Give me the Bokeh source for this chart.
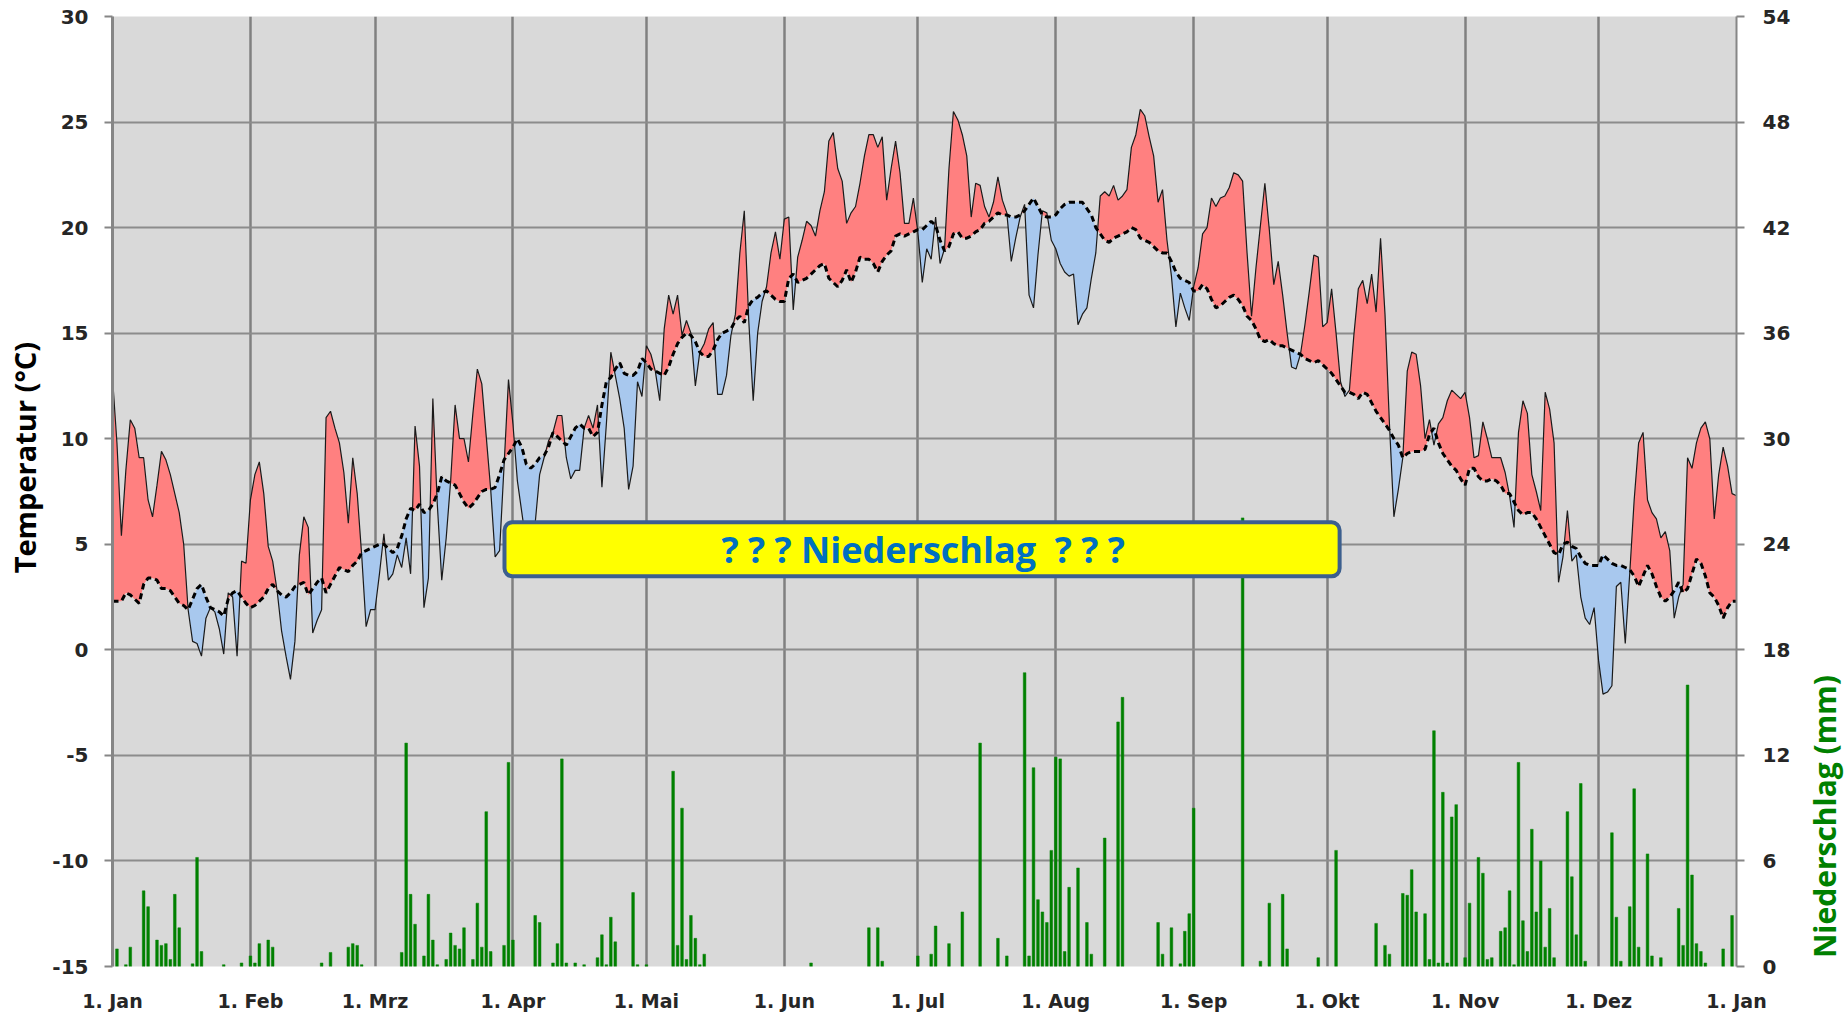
import math
import numpy as np
from bokeh.plotting import figure
from bokeh.layouts import row
from bokeh.models import Range1d, LinearAxis, FixedTicker, BoxAnnotation, Label
from bokeh.core.properties import value
from bokeh.embed import file_html
from bokeh.resources import INLINE

# ---------------- data ----------------
month_start = [0, 31, 59, 90, 120, 151, 181, 212, 243, 273, 304, 334, 365]
month_label = ["1. Jan", "1. Feb", "1. Mrz", "1. Apr", "1. Mai", "1. Jun", "1. Jul",
               "1. Aug", "1. Sep", "1. Okt", "1. Nov", "1. Dez", "1. Jan"]
temp_ticks = [-15, -10, -5, 0, 5, 10, 15, 20, 25, 30]
temp_tick_labels = ["-15", "-10", "-5", "0", "5", "10", "15", "20", "25", "30"]
rain_ticks = [0, 6, 12, 18, 24, 30, 36, 42, 48, 54]

# daily mean temperature (°C)
temp_jan = [12.9, 9.8, 5.4, 8.5, 10.9, 10.5, 9.1, 9.1, 7.1, 6.3, 7.8, 9.4, 9.0, 8.3, 7.4, 6.5,
            5.0, 1.9, 0.4, 0.3, -0.3, 1.5, 2.0, 1.8, 1.0, -0.2, 2.7, 2.5, -0.3, 4.2, 4.1]
temp_feb = [7.1, 8.3, 8.9, 7.4, 4.9, 4.2, 2.8, 0.9, -0.3, -1.4, 0.4, 4.5, 6.3, 5.8, 0.8, 1.4,
            1.9, 11.0, 11.3, 10.5, 9.8, 8.4, 6.0, 9.1, 7.4, 4.5, 1.1, 1.9]
temp_mar = [1.9, 3.6, 5.5, 3.3, 3.6, 4.5, 3.9, 5.3, 3.6, 10.6, 8.7, 2.0, 3.4, 11.9, 6.9, 3.3,
            5.3, 8.0, 11.6, 10.0, 10.0, 8.9, 11.2, 13.3, 12.6, 10.1, 7.6, 4.4, 4.7, 8.7, 12.8]
temp_apr = [10.7, 8.0, 6.5, 5.0, 5.2, 6.0, 8.3, 9.1, 9.9, 10.3, 11.1, 11.1, 9.1, 8.1, 8.5,
            8.5, 10.5, 11.1, 10.5, 11.6, 7.7, 10.7, 14.1, 13.0, 11.9, 10.5, 7.6, 8.7, 12.7, 12.0]
temp_may = [14.4, 14.0, 13.2, 11.8, 15.2, 16.8, 15.9, 16.8, 14.9, 15.6, 15.0, 12.5, 14.1, 14.5,
            15.2, 15.5, 12.1, 12.1, 13.0, 14.9, 15.9, 18.8, 20.8, 15.6, 11.8, 15.0, 16.5, 17.2,
            18.8, 19.8, 18.5]
temp_jun = [20.4, 20.5, 16.1, 18.6, 19.4, 20.3, 20.1, 19.6, 20.8, 21.7, 24.1, 24.5, 22.8, 22.2,
            20.2, 20.7, 21.0, 22.1, 23.4, 24.4, 24.4, 23.8, 24.3, 21.3, 22.8, 24.1, 22.6, 20.2,
            20.2, 21.4]
temp_jul = [19.8, 17.4, 19.0, 18.5, 20.5, 18.3, 19.0, 22.8, 25.5, 25.1, 24.4, 23.4, 20.5, 22.1,
            22.0, 21.0, 20.5, 21.2, 22.4, 21.3, 20.7, 18.4, 19.5, 20.5, 21.1, 16.8, 16.2, 18.7,
            20.8, 20.7, 19.4]
temp_aug = [19.0, 18.3, 17.9, 17.7, 17.8, 15.4, 15.9, 16.2, 17.6, 18.8, 21.5, 21.7, 21.5, 22.0,
            21.3, 21.5, 21.8, 23.8, 24.4, 25.6, 25.3, 24.3, 23.4, 21.2, 21.8, 19.4, 17.7, 15.3,
            16.9, 16.2, 15.6]
temp_sep = [17.2, 18.1, 19.7, 20.0, 21.4, 21.0, 21.4, 21.5, 21.9, 22.6, 22.5, 22.2, 18.8, 15.8,
            18.1, 20.1, 22.1, 19.9, 17.3, 18.4, 16.8, 15.0, 13.4, 13.3, 14.0, 15.4, 17.0, 18.7,
            18.6, 15.3]
temp_oct = [15.5, 17.1, 15.0, 12.7, 12.0, 12.3, 14.9, 17.1, 17.5, 16.4, 17.8, 16.0, 19.5, 15.9,
            10.7, 6.3, 7.6, 9.1, 13.2, 14.1, 14.0, 12.5, 10.0, 10.9, 9.7, 10.7, 11.0, 11.8, 12.3,
            12.1, 11.9]
temp_nov = [12.2, 11.0, 9.1, 9.2, 10.8, 10.0, 9.1, 9.1, 9.1, 8.4, 7.3, 5.8, 10.3, 11.8, 11.2,
            8.3, 7.5, 6.6, 12.2, 11.4, 9.8, 3.2, 4.4, 6.6, 4.2, 4.5, 2.5, 1.5, 1.2, 2.0]
temp_dec = [-0.5, -2.1, -2.0, -1.7, 3.0, 3.2, 0.3, 3.6, 7.1, 9.8, 10.3, 7.1, 6.5, 6.2, 5.3, 5.6,
            4.7, 1.5, 2.5, 3.1, 9.1, 8.6, 9.8, 10.5, 10.8, 10.0, 6.2, 8.3, 9.6, 8.7, 7.4, 7.3]

# long-term mean (°C)
mean_jan = [2.3, 2.3, 2.3, 2.7, 2.6, 2.4, 2.2, 3.1, 3.4, 3.4, 3.3, 2.9, 2.9, 2.8, 2.5, 2.2,
            2.1, 1.9, 2.4, 2.9, 3.1, 2.5, 2.0, 1.9, 1.8, 1.6, 2.4, 2.7, 2.8, 2.5, 2.2]
mean_feb = [2.0, 2.1, 2.3, 2.5, 2.9, 3.1, 2.8, 2.6, 2.5, 2.7, 3.0, 3.1, 3.2, 2.6, 2.9, 3.2,
            3.4, 2.7, 3.1, 3.5, 3.9, 3.8, 3.7, 4.0, 4.2, 4.6, 4.7, 4.8]
mean_mar = [4.9, 5.0, 5.0, 4.8, 4.6, 4.8, 5.4, 6.2, 6.7, 6.6, 6.9, 6.5, 6.6, 6.9, 7.4, 8.2,
            8.0, 7.9, 7.8, 7.4, 7.0, 6.7, 6.9, 7.2, 7.5, 7.6, 7.6, 7.7, 8.3, 9.0, 9.3]
mean_apr = [9.6, 10.0, 9.6, 8.8, 8.6, 8.8, 9.1, 9.2, 9.6, 10.3, 10.1, 9.9, 9.7, 10.1, 10.5,
            10.7, 10.5, 10.5, 10.1, 10.3, 11.6, 12.7, 12.9, 13.3, 13.6, 13.1, 13.0, 13.0, 13.2, 13.8]
mean_may = [13.6, 13.3, 13.2, 13.1, 13.0, 13.4, 14.0, 14.5, 14.8, 15.0, 14.9, 14.6, 14.1, 13.9,
            13.9, 14.2, 14.7, 15.0, 15.1, 15.2, 15.6, 15.8, 15.5, 16.3, 16.6, 16.7, 16.9, 17.0,
            16.8, 16.6, 16.5]
mean_jun = [16.5, 17.6, 17.8, 17.4, 17.5, 17.6, 17.8, 18.0, 18.2, 18.3, 17.6, 17.4, 17.2, 17.5,
            18.0, 17.4, 17.9, 18.6, 18.5, 18.5, 18.3, 17.9, 18.4, 18.7, 18.9, 19.6, 19.7, 19.6,
            19.7, 19.8]
mean_jul = [19.9, 19.9, 20.1, 20.3, 20.1, 19.4, 18.9, 19.1, 19.7, 19.8, 19.5, 19.5, 19.6, 19.8,
            19.9, 20.2, 20.3, 20.5, 20.7, 20.6, 20.6, 20.5, 20.5, 20.6, 20.8, 21.1, 21.4, 21.0,
            20.6, 20.5, 20.5]
mean_aug = [20.6, 20.9, 21.1, 21.2, 21.2, 21.2, 21.2, 20.9, 20.6, 20.0, 19.7, 19.4, 19.3, 19.5,
            19.6, 19.7, 19.8, 20.0, 19.9, 19.5, 19.4, 19.3, 19.1, 18.9, 18.8, 18.8, 18.4, 17.9,
            17.6, 17.5, 17.4]
mean_sep = [17.0, 17.0, 17.3, 17.1, 16.6, 16.2, 16.3, 16.5, 16.7, 16.8, 16.6, 16.3, 15.8, 15.6,
            15.2, 14.7, 14.6, 14.7, 14.5, 14.4, 14.4, 14.3, 14.2, 14.1, 14.0, 13.8, 13.7, 13.6,
            13.7, 13.5]
mean_oct = [13.3, 13.1, 12.8, 12.5, 12.2, 12.2, 12.1, 11.9, 12.2, 12.1, 11.7, 11.3, 11.0, 10.7,
            10.4, 10.0, 9.7, 9.1, 9.3, 9.4, 9.4, 9.4, 9.5, 10.2, 10.5, 9.8, 9.3, 9.0, 8.7, 8.5, 8.1]
mean_nov = [7.8, 8.6, 8.6, 8.2, 8.0, 8.0, 8.1, 8.0, 7.8, 7.4, 7.4, 7.0, 6.6, 6.4, 6.5, 6.5, 6.2,
            5.8, 5.4, 5.0, 4.6, 4.5, 5.0, 5.1, 4.9, 4.8, 4.4, 4.1, 4.0, 4.0]
mean_dec = [4.0, 4.5, 4.3, 4.1, 4.0, 4.0, 3.9, 3.8, 3.5, 3.0, 3.5, 4.0, 3.6, 3.0, 2.5, 2.3, 2.5,
            2.8, 3.2, 2.7, 2.9, 3.6, 4.3, 4.1, 3.5, 2.7, 2.5, 2.1, 1.5, 2.0, 2.3, 2.3]

# precipitation (day of year, mm)
rain_day = [1, 3, 4, 7, 8, 10, 11, 12, 13, 14, 15, 18, 19, 20, 25, 29, 31, 32, 33, 35, 36,
            47, 49, 53, 54, 55, 56, 65, 66, 67, 68, 70, 71, 72, 73, 75, 76, 77, 78, 79, 81,
            82, 83, 84, 85, 88, 89, 90, 95, 96, 99, 100, 101, 102, 104, 106, 109, 110, 111,
            112, 113, 117, 118, 120, 126, 127, 128, 129, 130, 131, 132, 133, 157, 170, 172,
            173, 181, 184, 185, 188, 191, 195, 199, 201, 205, 206, 207, 208, 209, 210, 211,
            212, 213, 214, 215, 217, 219, 220, 223, 226, 227, 235, 236, 238, 240, 241, 242,
            243, 254, 258, 260, 263, 264, 271, 275, 284, 286, 287, 290, 291, 292, 293, 295,
            296, 297, 298, 299, 300, 301, 302, 304, 305, 307, 308, 309, 310, 312, 313, 314,
            315, 316, 317, 318, 319, 320, 321, 322, 323, 324, 327, 328, 329, 330, 331, 337,
            338, 339, 341, 342, 343, 345, 346, 348, 352, 353, 354, 355, 356, 357, 358, 362, 364]
rain_mm = [1.0, 0.1, 1.1, 4.3, 3.4, 1.5, 1.2, 1.3, 0.4, 4.1, 2.2, 0.15, 6.2, 0.85, 0.1, 0.2,
           0.6, 0.2, 1.3, 1.5, 1.1, 0.2, 0.8, 1.1, 1.3, 1.2, 0.1, 0.8, 12.7, 4.1, 2.4, 0.6, 4.1,
           1.5, 0.1, 0.4, 1.9, 1.2, 1.0, 2.2, 0.4, 3.6, 1.1, 8.8, 0.85, 1.2, 11.6, 1.5, 2.9, 2.5,
           0.2, 1.3, 11.8, 0.2, 0.2, 0.1, 0.5, 1.8, 0.1, 2.8, 1.4, 4.2, 0.1, 0.1, 11.1, 1.2, 9.0,
           0.4, 2.9, 1.6, 0.1, 0.7, 0.2, 2.2, 2.2, 0.3, 0.6, 0.7, 2.3, 1.3, 3.1, 12.7, 1.6, 0.6,
           16.7, 0.6, 11.3, 3.8, 3.1, 2.5, 6.6, 11.9, 11.8, 0.85, 4.5, 5.6, 2.5, 0.7, 7.3, 13.9,
           15.3, 2.5, 0.7, 2.2, 0.15, 2.0, 3.0, 9.0, 25.5, 0.3, 3.6, 4.1, 1.0, 0.5, 6.6, 2.45,
           1.2, 0.7, 4.15, 4.05, 5.5, 3.1, 3.0, 0.4, 13.4, 0.2, 9.9, 0.2, 8.5, 9.2, 0.5, 3.6,
           6.2, 5.3, 0.4, 0.5, 2.0, 2.2, 4.3, 0.1, 11.6, 2.6, 0.85, 7.8, 3.1, 6.0, 1.1, 3.3, 0.5,
           8.8, 5.1, 1.8, 10.4, 0.3, 7.6, 2.8, 0.3, 3.4, 10.1, 1.1, 6.4, 0.6, 0.5, 3.3, 1.2,
           16.0, 5.2, 1.3, 0.85, 0.2, 1.0, 2.9]

temp = (temp_jan + temp_feb + temp_mar + temp_apr + temp_may + temp_jun + temp_jul +
        temp_aug + temp_sep + temp_oct + temp_nov + temp_dec)
temp_mean = (mean_jan + mean_feb + mean_mar + mean_apr + mean_may + mean_jun + mean_jul +
             mean_aug + mean_sep + mean_oct + mean_nov + mean_dec)
days = list(range(len(temp)))
assert len(temp) == 366 and len(temp_mean) == 366 and len(rain_day) == len(rain_mm)

# split the area between both curves at crossings
xs, ts, ms = [days[0]], [temp[0]], [temp_mean[0]]
for i in range(len(temp) - 1):
    d0 = temp[i] - temp_mean[i]
    d1 = temp[i + 1] - temp_mean[i + 1]
    if d0 * d1 < 0:
        f = d0 / (d0 - d1)
        v = temp[i] + f * (temp[i + 1] - temp[i])
        xs.append(days[i] + f); ts.append(v); ms.append(v)
    xs.append(days[i + 1]); ts.append(temp[i + 1]); ms.append(temp_mean[i + 1])
xs = np.array(xs); ts = np.array(ts); ms = np.array(ms)

# ---------------- figure ----------------
TICK_FONT = "DejaVu Sans"
LABEL_FONT = "Open Sans"
GRAY = "#868686"
NBSP = "\u00a0"

p = figure(width=1803, height=1014,
           x_range=Range1d(0, 365), y_range=Range1d(-15, 30),
           output_backend="svg", toolbar_location=None,
           min_border_left=112, min_border_right=67, min_border_top=16, min_border_bottom=46,
           background_fill_color="#d9d9d9", border_fill_color="white",
           outline_line_color=None)
p.extra_y_ranges = {"rain": Range1d(0, 54)}

# grids
p.xgrid.ticker = FixedTicker(ticks=month_start)
p.xgrid.grid_line_color = "#808080"
p.xgrid.grid_line_width = 2.5
p.ygrid.ticker = FixedTicker(ticks=temp_ticks)
p.ygrid.grid_line_color = "#8c8c8c"
p.ygrid.grid_line_width = 2

# x axis
xa = p.xaxis[0]
xa.ticker = FixedTicker(ticks=month_start)
xa.major_label_overrides = {d: l for d, l in zip(month_start, month_label)}
xa.axis_line_color = None
xa.major_tick_line_color = None
xa.major_tick_out = 0
xa.major_tick_in = 0
xa.minor_tick_line_color = None
xa.minor_tick_out = 0
xa.major_label_standoff = 23
xa.major_label_text_font = TICK_FONT
xa.major_label_text_font_style = "bold"
xa.major_label_text_font_size = "19px"
xa.major_label_text_color = "#262626"

# left axis
ya = p.yaxis[0]
ya.ticker = FixedTicker(ticks=temp_ticks)
ya.major_label_overrides = {t: s for t, s in zip(temp_ticks, temp_tick_labels)}
ya.axis_line_color = GRAY
ya.axis_line_width = 3
ya.major_tick_line_color = GRAY
ya.major_tick_line_width = 2
ya.major_tick_out = 8
ya.major_tick_in = 0
ya.minor_tick_line_color = None
ya.minor_tick_out = 0
ya.major_label_standoff = 16
ya.major_label_text_font = TICK_FONT
ya.major_label_text_font_style = "bold"
ya.major_label_text_font_size = "20px"
ya.major_label_text_color = "#262626"
ya.axis_label = NBSP * 9 + "Temperatur (°C)"
ya.axis_label_standoff = 5
ya.axis_label_text_font = LABEL_FONT
ya.axis_label_text_font_style = "bold"
ya.axis_label_text_font_size = "29px"
ya.axis_label_text_color = "black"

# right axis (precipitation)
ra = LinearAxis(y_range_name="rain", ticker=FixedTicker(ticks=rain_ticks))
ra.axis_line_color = GRAY
ra.axis_line_width = 2
ra.major_tick_line_color = GRAY
ra.major_tick_line_width = 2
ra.major_tick_out = 8
ra.major_tick_in = 0
ra.minor_tick_line_color = None
ra.minor_tick_out = 0
ra.major_label_standoff = 18
ra.major_label_text_font = TICK_FONT
ra.major_label_text_font_style = "bold"
ra.major_label_text_font_size = "20px"
ra.major_label_text_color = "#262626"
p.add_layout(ra, "right")

# precipitation bars
p.vbar(x=rain_day, top=rain_mm, bottom=0, width=0.6, y_range_name="rain",
       fill_color="#008000", line_color="#008000", line_width=0.5)

# warm / cold areas
p.varea(x=xs, y1=ms, y2=np.maximum(ts, ms), fill_color="#ff8080")
p.varea(x=xs, y1=np.minimum(ts, ms), y2=ms, fill_color="#a8c8ee")

# curves
p.line(days, temp, line_color="#1a1a1a", line_width=1.2)
p.line(days, temp_mean, line_color="black", line_width=3, line_dash="6 4")

# yellow note box
box = BoxAnnotation(left=88.1, right=275.8, bottom=3.48, top=6.04,
                    fill_color="#ffff00", fill_alpha=1.0,
                    line_color="#3c5f8e", line_alpha=1.0, line_width=4,
                    border_radius=8)
p.add_layout(box)
p.add_layout(Label(x=182.2, y=4.73, text="? ? ? Niederschlag" + NBSP + " ? ? ?",
                   text_align="center", text_baseline="middle",
                   text_font=LABEL_FONT, text_font_style="bold",
                   text_font_size="36px", text_color="#0070c0"))

# narrow strip carrying the right-hand axis title
p2 = figure(width=42, height=1014,
            x_range=Range1d(0, 1), y_range=Range1d(-15, 30),
            output_backend="svg", toolbar_location=None,
            min_border_left=0, min_border_right=0, min_border_top=16, min_border_bottom=46,
            background_fill_color="white", border_fill_color="white",
            outline_line_color=None)
p2.axis.visible = False
p2.grid.visible = False
p2.text(x=[0.5], y=[-7.9], text=["Niederschlag (mm)"], angle=math.pi / 2,
        text_align="center", text_baseline="middle",
        text_font=value(LABEL_FONT), text_font_style=value("bold"),
        text_font_size=value("30px"), text_color="#008000")

layout = row(p, p2, spacing=0)
open("out.html", "w").write(file_html(layout, INLINE))
